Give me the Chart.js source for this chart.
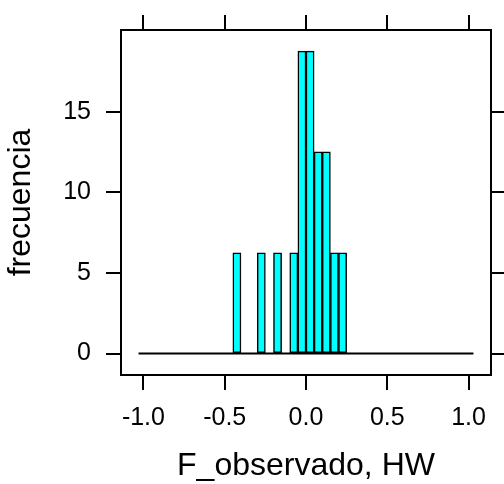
<!DOCTYPE html>
<html>
<head>
<meta charset="utf-8">
<script src="https://cdn.jsdelivr.net/npm/chart.js@4/dist/chart.umd.min.js"></script>
<style>
  html, body { margin: 0; padding: 0; background: #fff; }
  #wrap { width: 504px; height: 484px; }
</style>
</head>
<body>
<div id="wrap"><canvas id="c" width="504" height="484"></canvas></div>
<script>
// ---- data ----
const binCenters = [-0.425, -0.275, -0.175, -0.075, -0.025, 0.025, 0.075, 0.125, 0.175, 0.225];
const percents   = [6.25, 6.25, 6.25, 6.25, 18.75, 18.75, 12.5, 12.5, 6.25, 6.25];
const histRange  = [-1.03, 1.03];          // extent of the (empty) histogram bins
const xTicks     = [-1.0, -0.5, 0.0, 0.5, 1.0];
const yTicks     = [0, 5, 10, 15];
const xLimits    = [-1.138, 1.138];
const yLimits    = [-1.33, 20.06];
const xTitle     = 'F_observado, HW';
const yTitle     = 'frecuencia';

const FONT = 'Liberation Sans, Arial, Helvetica, sans-serif';
const BLACK = '#000000';

const barData = binCenters.map((x, i) => ({ x: x, y: percents[i] }));
const baseData = histRange.map(x => ({ x: x, y: 0 }));

const setTicks = arr => (scale => { scale.ticks = arr.map(v => ({ value: v })); });

const gridCommon = { drawOnChartArea: false, drawTicks: true, tickLength: 15, color: BLACK, lineWidth: 2, offset: false };
const borderCommon = { display: true, color: BLACK, width: 2 };

new Chart(document.getElementById('c'), {
  type: 'bar',
  data: {
    datasets: [
      {
        type: 'line',
        data: baseData,
        borderColor: BLACK,
        borderWidth: 2,
        pointRadius: 0,
        xAxisID: 'x', yAxisID: 'y',
        order: 2
      },
      {
        type: 'bar',
        data: barData,
        backgroundColor: '#00FFFF',
        borderColor: BLACK,
        borderWidth: 1.5,
        borderSkipped: false,
        barPercentage: 1,
        categoryPercentage: 1,
        xAxisID: 'x', yAxisID: 'y',
        order: 1
      }
    ]
  },
  options: {
    responsive: false,
    animation: false,
    devicePixelRatio: 1,
    layout: { padding: 0 },
    plugins: { legend: { display: false }, tooltip: { enabled: false } },
    scales: {
      x: {
        type: 'linear', position: 'bottom', offset: false,
        min: xLimits[0], max: xLimits[1],
        afterBuildTicks: setTicks(xTicks),
        afterFit: s => { s.height = 109; },
        ticks: {
          color: BLACK, font: { family: FONT, size: 25 }, padding: 13,
          maxRotation: 0, autoSkip: false,
          callback: v => Number(v).toFixed(1)
        },
        grid: gridCommon,
        border: borderCommon,
        title: {
          display: true, text: xTitle, color: BLACK,
          font: { family: FONT, size: 32, lineHeight: 1 },
          padding: { top: 0, bottom: 2 }
        }
      },
      xTop: {
        type: 'linear', position: 'top', offset: false,
        min: xLimits[0], max: xLimits[1],
        afterBuildTicks: setTicks(xTicks),
        afterFit: s => { s.height = 26; },
        ticks: { callback: () => '', font: { size: 1 }, padding: 0 },
        grid: gridCommon,
        border: borderCommon
      },
      y: {
        type: 'linear', position: 'left', offset: false,
        min: yLimits[0], max: yLimits[1],
        afterBuildTicks: setTicks(yTicks),
        afterFit: s => { s.width = 121; },
        ticks: {
          color: BLACK, font: { family: FONT, size: 25 }, padding: 15,
          callback: v => String(v)
        },
        grid: gridCommon,
        border: borderCommon,
        title: {
          display: true, text: yTitle, color: BLACK,
          font: { family: FONT, size: 32, lineHeight: 1 },
          padding: { top: 5, bottom: 0 }
        }
      },
      yRight: {
        type: 'linear', position: 'right', offset: false,
        min: yLimits[0], max: yLimits[1],
        afterBuildTicks: setTicks(yTicks),
        afterFit: s => { s.width = 13; },
        ticks: { callback: () => '', font: { size: 1 }, padding: 0 },
        grid: gridCommon,
        border: borderCommon
      }
    }
  }
});
</script>
</body>
</html>
